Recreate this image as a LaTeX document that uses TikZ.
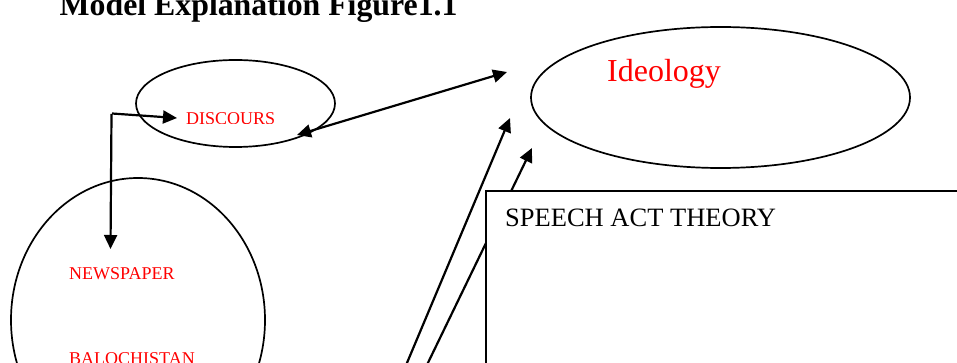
\documentclass[tikz,border=0pt]{standalone}
\usepackage{fontspec}
\setmainfont{Liberation Serif}
\usetikzlibrary{arrows.meta,shapes.geometric}
\begin{document}
\begin{tikzpicture}[x=1pt,y=-1pt,
  oval/.style={draw, ellipse, line width=1.7pt, inner sep=0pt, outer sep=0pt},
  arr/.style={line width=2.2pt, -{Triangle[length=14pt,width=13pt]}},
  dbl/.style={line width=2.2pt, {Triangle[length=14pt,width=13pt]}-{Triangle[length=14pt,width=13pt]}},
  redtxt/.style={anchor=base west, inner sep=0pt, text=red, font=\fontsize{18}{20}\selectfont},
  lbl/.style={anchor=base west, inner sep=0pt}]
\useasboundingbox (0,0) rectangle (957,363);
% ellipses
\node[oval, minimum width=199pt, minimum height=87pt] (disc) at (235.5,103.5) {};
\node[oval, minimum width=379pt, minimum height=141pt] (ideo) at (720.5,97.5) {};
\node[oval, minimum width=254pt, minimum height=284pt] (news) at (138,320) {};
% arrow end points
\coordinate (s1) at (112,113.5);
\coordinate (t1) at (177,118);
\coordinate (s2) at (111.5,114);
\coordinate (t2) at (110.5,249);
\coordinate (d1) at (297,135);
\coordinate (d2) at (507,72);
\coordinate (sa) at (404,370);
\coordinate (ta) at (510,118);
\coordinate (sb) at (424.5,370);
\coordinate (tb) at (532,148);
% arrows
\draw[arr] (s1) -- (t1);
\draw[arr] (s2) -- (t2);
\draw[dbl] (d1) -- (d2);
\draw[arr] (sa) -- (ta);
\draw[arr] (sb) -- (tb);
% box
\node[draw, fill=white, line width=2pt, anchor=north west, minimum width=500pt, minimum height=200pt, inner sep=0pt] (sat) at (485,190) {};
% texts
\node[lbl, font=\fontsize{31.8}{34}\selectfont\bfseries] (title) at (59.5,15.5) {Model Explanation Figure1.1};
\begin{scope}
\clip (180,100) rectangle (290,123.3);
\node[redtxt] (disctxt) at (186,125) {DISCOURS};
\end{scope}
\node[redtxt] (newstxt) at (69,279) {NEWSPAPER};
\node[redtxt] (balotxt) at (69,364) {BALOCHISTAN};
\node[lbl, text=red, font=\fontsize{32}{36}\selectfont] (ideotxt) at (607,82) {Ideology};
\node[lbl, font=\fontsize{26.5}{30}\selectfont] (sattxt) at (505,226) {SPEECH ACT THEORY};
\end{tikzpicture}
\end{document}
